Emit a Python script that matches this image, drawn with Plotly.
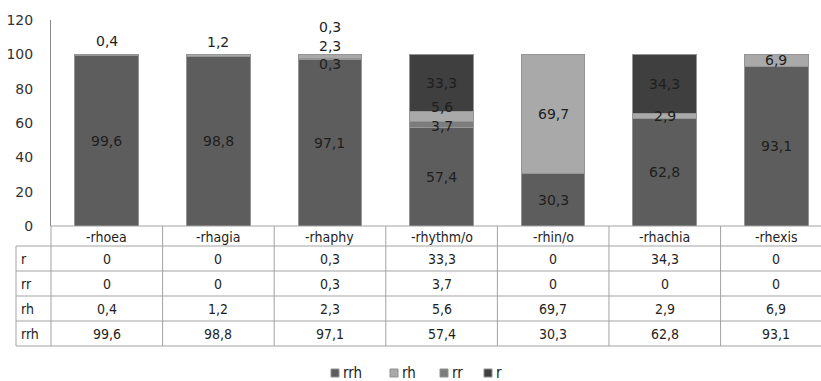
import plotly.graph_objects as go

categories = ["-rhoea", "-rhagia", "-rhaphy", "-rhythm/o", "-rhin/o", "-rhachia", "-rhexis"]
r_vals = [0, 0, 0.3, 33.3, 0, 34.3, 0]
rr_vals = [0, 0, 0.3, 3.7, 0, 0, 0]
rh_vals = [0.4, 1.2, 2.3, 5.6, 69.7, 2.9, 6.9]
rrh_vals = [99.6, 98.8, 97.1, 57.4, 30.3, 62.8, 93.1]
y_ticks = [0, 20, 40, 60, 80, 100, 120]
legend_order = ["rrh", "rh", "rr", "r"]

# stacking order (bottom -> top)
colors = {"rrh": "#5d5d5d", "rr": "#7c7c7c", "rh": "#a9a9a9", "r": "#3f3f3f"}
stack = [("rrh", rrh_vals), ("rr", rr_vals), ("rh", rh_vals), ("r", r_vals)]
table_rows = [("r", r_vals), ("rr", rr_vals), ("rh", rh_vals), ("rrh", rrh_vals)]

# label displacement (px) to avoid overlaps, like the original
label_shift = {("-rhoea", "rh"): 14, ("-rhagia", "rh"): 13,
               ("-rhaphy", "rr"): -5, ("-rhaphy", "rh"): 11, ("-rhaphy", "r"): 28,
               ("-rhythm/o", "rr"): -2, ("-rhythm/o", "rh"): 9}

W, H = 821, 381
ML, MT, MB = 51, 20, 155
PW = W - ML
PH = H - MT - MB
XR = [-0.5, 6.4]

def fmt(v):
    return "0" if v == 0 else f"{v:.1f}".replace(".", ",")

def py(p):  # pixel y -> paper y
    return (MT + PH - p) / PH

def px(p):  # pixel x -> paper x
    return (p - ML) / PW

def cx(k):  # category boundary -> paper x
    return (k - XR[0]) / (XR[1] - XR[0])

fig = go.Figure()
for name, vals in stack:
    fig.add_trace(go.Bar(
        x=categories, y=vals, name=name, width=0.57,
        marker=dict(color=colors[name], line=dict(color="#959595", width=1)),
        hoverinfo="skip", showlegend=False))

annotations = []
font_lbl = dict(family="DejaVu Sans", size=14, color="#1e1e1e")
for i, c in enumerate(categories):
    base = 0
    for name, vals in stack:
        v = vals[i]
        if v > 0:
            annotations.append(dict(x=c, y=base + v / 2, xref="x", yref="y",
                                    text=fmt(v), showarrow=False, font=font_lbl,
                                    yanchor="middle",
                                    yshift=label_shift.get((c, name), 0)))
        base += v

# data table
line_col = "#a3a3a3"
row_lines = [226, 246, 271, 296, 321, 346]
shapes = []
shapes.append(dict(type="line", xref="paper", yref="paper", x0=0, x1=1.05,
                   y0=py(row_lines[0]), y1=py(row_lines[0]), line=dict(color=line_col, width=1)))
for yl in row_lines[1:]:
    shapes.append(dict(type="line", xref="paper", yref="paper", x0=px(16), x1=1.05,
                       y0=py(yl), y1=py(yl), line=dict(color=line_col, width=1)))
shapes.append(dict(type="line", xref="paper", yref="paper", x0=px(16), x1=px(16),
                   y0=py(row_lines[1]), y1=py(row_lines[-1]), line=dict(color=line_col, width=1)))
shapes.append(dict(type="line", xref="paper", yref="paper", x0=0, x1=0,
                   y0=0, y1=py(row_lines[-1]), line=dict(color=line_col, width=1)))
for k in range(len(categories)):
    xb = cx(k + 0.5)
    if xb <= 1:
        shapes.append(dict(type="line", xref="paper", yref="paper", x0=xb, x1=xb,
                           y0=py(row_lines[0]), y1=py(row_lines[-1]),
                           line=dict(color=line_col, width=1)))

font_tab = dict(family="DejaVu Sans Condensed, DejaVu Sans", size=14, color="#1e1e1e")
hy = py((row_lines[0] + row_lines[1]) / 2 + 1)
for i, c in enumerate(categories):
    annotations.append(dict(x=c, y=hy, xref="x", yref="paper", text=c, yanchor="middle",
                            showarrow=False, font=font_tab))
for j, (rname, vals) in enumerate(table_rows):
    yc = py((row_lines[j + 1] + row_lines[j + 2]) / 2)
    annotations.append(dict(x=px(19), y=yc, xref="paper", yref="paper", text=rname,
                            xanchor="left", yanchor="middle", showarrow=False, font=font_tab))
    for i, c in enumerate(categories):
        annotations.append(dict(x=c, y=yc, xref="x", yref="paper", text=fmt(vals[i]),
                                yanchor="middle", showarrow=False, font=font_tab))

# legend (drawn as small swatches + labels, like the original)
leg_x = [331, 390, 440, 484]
leg_y = 373
for name, lx in zip(legend_order, leg_x):
    shapes.append(dict(type="rect", xref="paper", yref="paper",
                       x0=px(lx), x1=px(lx + 8), y0=py(leg_y + 4), y1=py(leg_y - 4),
                       fillcolor=colors[name], line=dict(color="#909090", width=1)))
    annotations.append(dict(x=px(lx + 10), y=py(leg_y), xref="paper", yref="paper",
                            text=name, xanchor="left", yanchor="middle", showarrow=False,
                            font=dict(family="DejaVu Sans Condensed, DejaVu Sans", size=15,
                                      color="#222222")))

fig.update_layout(
    width=W, height=H, barmode="stack",
    margin=dict(l=ML, r=0, t=MT, b=MB, pad=0, autoexpand=False),
    paper_bgcolor="white", plot_bgcolor="white",
    xaxis=dict(range=XR, showticklabels=False, showgrid=False, zeroline=False,
               showline=False, ticks="", automargin=False),
    yaxis=dict(range=[0, 120], tickvals=y_ticks, showgrid=False, zeroline=False,
               showline=True, linecolor="#8a8a8a", linewidth=1, ticks="",
               ticklabelstandoff=14, automargin=False,
               tickfont=dict(family="DejaVu Sans", size=14, color="#333333")),
    annotations=annotations, shapes=shapes, showlegend=False,
)

fig.write_html("out.html", config={"displayModeBar": False},
               post_script="document.body.style.margin='0px';document.body.style.overflow='hidden';")
